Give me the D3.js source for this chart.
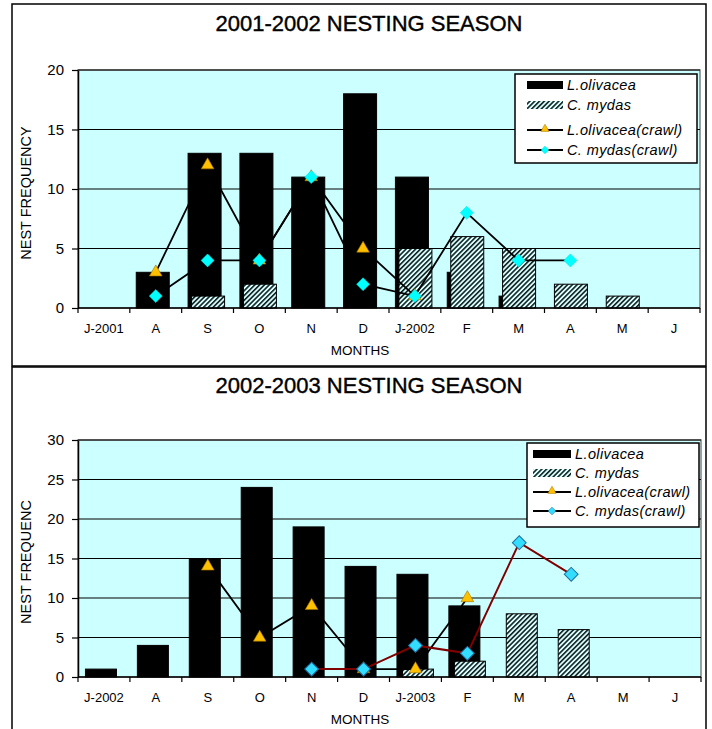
<!DOCTYPE html>
<html><head><meta charset="utf-8">
<script src="https://cdn.jsdelivr.net/npm/d3@7"></script>
<style>body{margin:0;background:#fff} svg{display:block} text{font-family:"Liberation Sans",Arial,sans-serif;fill:#000}</style>
</head><body>
<svg id="c" width="712" height="729"></svg>
<script>
// ---- Data: 2001-2002 season ----
const months1 = ["J-2001","A","S","O","N","D","J-2002","F","M","A","M","J"];
const olivacea1 = [0,3,13,13,11,18,11,3,1,0,0,0];
const mydas1 = [0,0,1,2,0,0,5,6,5,2,1,0];
const olivaceaCrawl1 = [null,3,12,4,11,5,1,null,null,null,null,null];
const mydasCrawl1 = [null,1,4,4,11,2,1,8,4,4,null,null];
const yTicks1 = [0,5,10,15,20];

// ---- Data: 2002-2003 season ----
const months2 = ["J-2002","A","S","O","N","D","J-2003","F","M","A","M","J"];
const olivacea2 = [1,4,15,24,19,14,13,9,0,0,0,0];
const mydas2 = [0,0,0,0,0,0,1,2,8,6,0,0];
const olivaceaCrawl2 = [null,null,14,5,9,1,1,10,null,null,null,null];
const mydasCrawl2 = [null,null,null,null,1,1,4,3,17,13,null,null];
const yTicks2 = [0,5,10,15,20,25,30];

const legendLabels = ["L.olivacea","C. mydas","L.olivacea(crawl)","C. mydas(crawl)"];

const svg = d3.select("#c");
const defs = svg.append("defs");
const pat = defs.append("pattern").attr("id","hatch")
  .attr("patternUnits","userSpaceOnUse").attr("width",3.4).attr("height",10)
  .attr("patternTransform","rotate(45)");
pat.append("rect").attr("width",3.4).attr("height",10).attr("fill","#dcffff");
pat.append("line").attr("x1",0.8).attr("x2",0.8).attr("y1",0).attr("y2",10)
  .attr("stroke","#102020").attr("stroke-width",1.6);

// frames
svg.append("rect").attr("x",12).attr("y",4).attr("width",694).attr("height",362)
  .attr("fill","none").attr("stroke","#000").attr("stroke-width",1.5);
svg.append("rect").attr("x",12).attr("y",367).attr("width",694).attr("height",380)
  .attr("fill","none").attr("stroke","#000").attr("stroke-width",1.5);

function drawChart(cfg){
  const g = svg.append("g");
  const x = d3.scaleBand().domain(d3.range(cfg.months.length)).range([cfg.left,cfg.right]);
  const y = d3.scaleLinear().domain([0,d3.max(cfg.ticks)]).range([cfg.bottom,cfg.top]);
  const bw = x.bandwidth();
  const cx = i => x(i) + bw/2;

  // title
  g.append("text").attr("x",369).attr("y",cfg.titleY).attr("text-anchor","middle")
    .style("font-size","22px").attr("stroke","#000").attr("stroke-width",0.4).text(cfg.title);

  // plot area
  g.append("rect").attr("x",cfg.left).attr("y",cfg.top)
    .attr("width",cfg.right-cfg.left).attr("height",cfg.bottom-cfg.top)
    .attr("fill","#ccffff").attr("stroke","#808080").attr("stroke-width",1.5);

  // gridlines
  g.selectAll(".grid").data(cfg.ticks.filter(t=>t>0)).join("line")
    .attr("x1",cfg.left).attr("x2",cfg.right)
    .attr("y1",d=>y(d)).attr("y2",d=>y(d))
    .attr("stroke","#000").attr("stroke-width",1);

  // bars
  const barW = cfg.barW;
  g.selectAll(".bo").data(cfg.olivacea.map((v,i)=>({v,i})).filter(d=>d.v>0)).join("rect")
    .attr("x",d=>cx(d.i)-3-barW/2).attr("width",barW)
    .attr("y",d=>y(d.v)).attr("height",d=>y(0)-y(d.v))
    .attr("fill","#000").attr("stroke","#000").attr("stroke-width",1);
  g.selectAll(".bm").data(cfg.mydas.map((v,i)=>({v,i})).filter(d=>d.v>0)).join("rect")
    .attr("x",d=>cx(d.i)+cfg.hOff-barW/2).attr("width",barW)
    .attr("y",d=>y(d.v)).attr("height",d=>y(0)-y(d.v))
    .attr("fill","url(#hatch)").attr("stroke","#000").attr("stroke-width",1);

  // axes
  const ya = g.append("g").attr("transform",`translate(${cfg.left},0)`)
    .call(d3.axisLeft(y).tickValues(cfg.ticks).tickSize(6).tickPadding(8).tickSizeOuter(0));
  ya.select(".domain").attr("stroke","#000").attr("stroke-width",1.5);
  ya.selectAll("line").attr("stroke","#000").attr("stroke-width",1.2);
  ya.selectAll("text").style("font-size","15px").style("font-family","'Liberation Sans',Arial,sans-serif");

  g.append("line").attr("x1",cfg.left).attr("x2",cfg.right).attr("y1",cfg.bottom).attr("y2",cfg.bottom)
    .attr("stroke","#000").attr("stroke-width",1.5);
  const bounds = d3.range(cfg.months.length+1).map(i => i<cfg.months.length ? x(i) : cfg.right);
  g.selectAll(".xt").data(bounds).join("line")
    .attr("x1",d=>d).attr("x2",d=>d).attr("y1",cfg.bottom).attr("y2",cfg.bottom+5)
    .attr("stroke","#000").attr("stroke-width",1.2);
  g.selectAll(".xl").data(cfg.months).join("text")
    .attr("x",(d,i)=>cx(i)).attr("y",cfg.bottom+25).attr("text-anchor","middle")
    .style("font-size","13px").text(d=>d);
  g.append("text").attr("x",360).attr("y",cfg.bottom+47).attr("text-anchor","middle")
    .style("font-size","13.5px").text("MONTHS");
  g.append("text").attr("transform",`translate(31,${cfg.yTitleY}) rotate(-90)`)
    .attr("text-anchor","middle").style("font-size","14.5px").text(cfg.yTitle);

  // lines
  const line = d3.line().defined(d=>d.v!=null).x(d=>cx(d.i)).y(d=>y(d.v));
  const oc = cfg.oCrawl.map((v,i)=>({v,i}));
  const mc = cfg.mCrawl.map((v,i)=>({v,i}));
  g.append("path").datum(oc).attr("d",line).attr("fill","none").attr("stroke","#000").attr("stroke-width",1.8);
  g.append("path").datum(mc).attr("d",line).attr("fill","none").attr("stroke",cfg.mLine).attr("stroke-width",cfg.mLineW);

  const tri = d3.symbol().type(d3.symbolTriangle).size(70);
  g.selectAll(".tri").data(oc.filter(d=>d.v!=null)).join("path")
    .attr("d",tri).attr("transform",d=>`translate(${cx(d.i)},${y(d.v)})`)
    .attr("fill","#ffc000").attr("stroke","#a07000").attr("stroke-width",0.6);
  const dia = d3.symbol().type(d3.symbolSquare).size(cfg.diaSize);
  g.selectAll(".dia").data(mc.filter(d=>d.v!=null)).join("path")
    .attr("d",dia).attr("transform",d=>`translate(${cx(d.i)},${y(d.v)}) rotate(45)`)
    .attr("fill",cfg.diaFill).attr("stroke",cfg.diaStroke).attr("stroke-width",cfg.diaStrokeW);

  // legend
  const L = cfg.legend;
  const lg = g.append("g");
  lg.append("rect").attr("x",L.x).attr("y",L.y).attr("width",L.w).attr("height",L.h)
    .attr("fill","#fff").attr("stroke","#000").attr("stroke-width",1.5);
  legendLabels.forEach((lab,k)=>{
    const yy = L.rows[k];
    const x0 = L.x+L.sx, x1 = L.x+L.sx+L.sw;
    if(k===0) lg.append("rect").attr("x",x0).attr("y",yy-4).attr("width",L.sw).attr("height",8).attr("fill","#000");
    if(k===1) lg.append("rect").attr("x",x0).attr("y",yy-4).attr("width",L.sw).attr("height",8).attr("fill","url(#hatch)");
    if(k===2){
      lg.append("line").attr("x1",x0).attr("x2",x1).attr("y1",yy).attr("y2",yy).attr("stroke","#000").attr("stroke-width",1.8);
      lg.append("path").attr("d",d3.symbol().type(d3.symbolTriangle).size(30)).attr("transform",`translate(${(x0+x1)/2},${yy-1})`)
        .attr("fill","#ffc000").attr("stroke","#a07000").attr("stroke-width",0.5);
    }
    if(k===3){
      lg.append("line").attr("x1",x0).attr("x2",x1).attr("y1",yy).attr("y2",yy).attr("stroke","#000").attr("stroke-width",1.8);
      lg.append("path").attr("d",d3.symbol().type(d3.symbolSquare).size(30)).attr("transform",`translate(${(x0+x1)/2},${yy}) rotate(45)`)
        .attr("fill",cfg.diaFill).attr("stroke",cfg.diaStroke).attr("stroke-width",0.5);
    }
    lg.append("text").attr("x",x1+4).attr("y",yy+5).style("font-size","14.5px").style("font-style","italic")
      .style("letter-spacing","0.4px").text(lab);
  });
}

drawChart({
  months: months1, olivacea: olivacea1, mydas: mydas1, oCrawl: olivaceaCrawl1, mCrawl: mydasCrawl1,
  ticks: yTicks1, left: 78, right: 700, top: 70, bottom: 308, barW: 33, hOff: 0.5,
  title: "2001-2002 NESTING SEASON", titleY: 31, yTitle: "NEST FREQUENCY", yTitleY: 193,
  mLine: "#000", mLineW: 1.8, diaFill: "#00ffff", diaStroke: "#00e0e0", diaStrokeW: 0.5, diaSize: 85,
  legend: {x:515, y:74, w:182, h:89, sx:12, sw:36, rows:[85,105,130,150]}
});
drawChart({
  months: months2, olivacea: olivacea2, mydas: mydas2, oCrawl: olivaceaCrawl2, mCrawl: mydasCrawl2,
  ticks: yTicks2, left: 78, right: 701, top: 440, bottom: 677, barW: 31, hOff: 2.5,
  title: "2002-2003 NESTING SEASON", titleY: 393, yTitle: "NEST FREQUENC", yTitleY: 562,
  mLine: "#800000", mLineW: 2, diaFill: "#33ddff", diaStroke: "#1f6f9f", diaStrokeW: 1, diaSize: 95,
  legend: {x:527, y:443, w:172, h:84, sx:6, sw:38, rows:[454,473,492,511]}
});
</script>
</body></html>
